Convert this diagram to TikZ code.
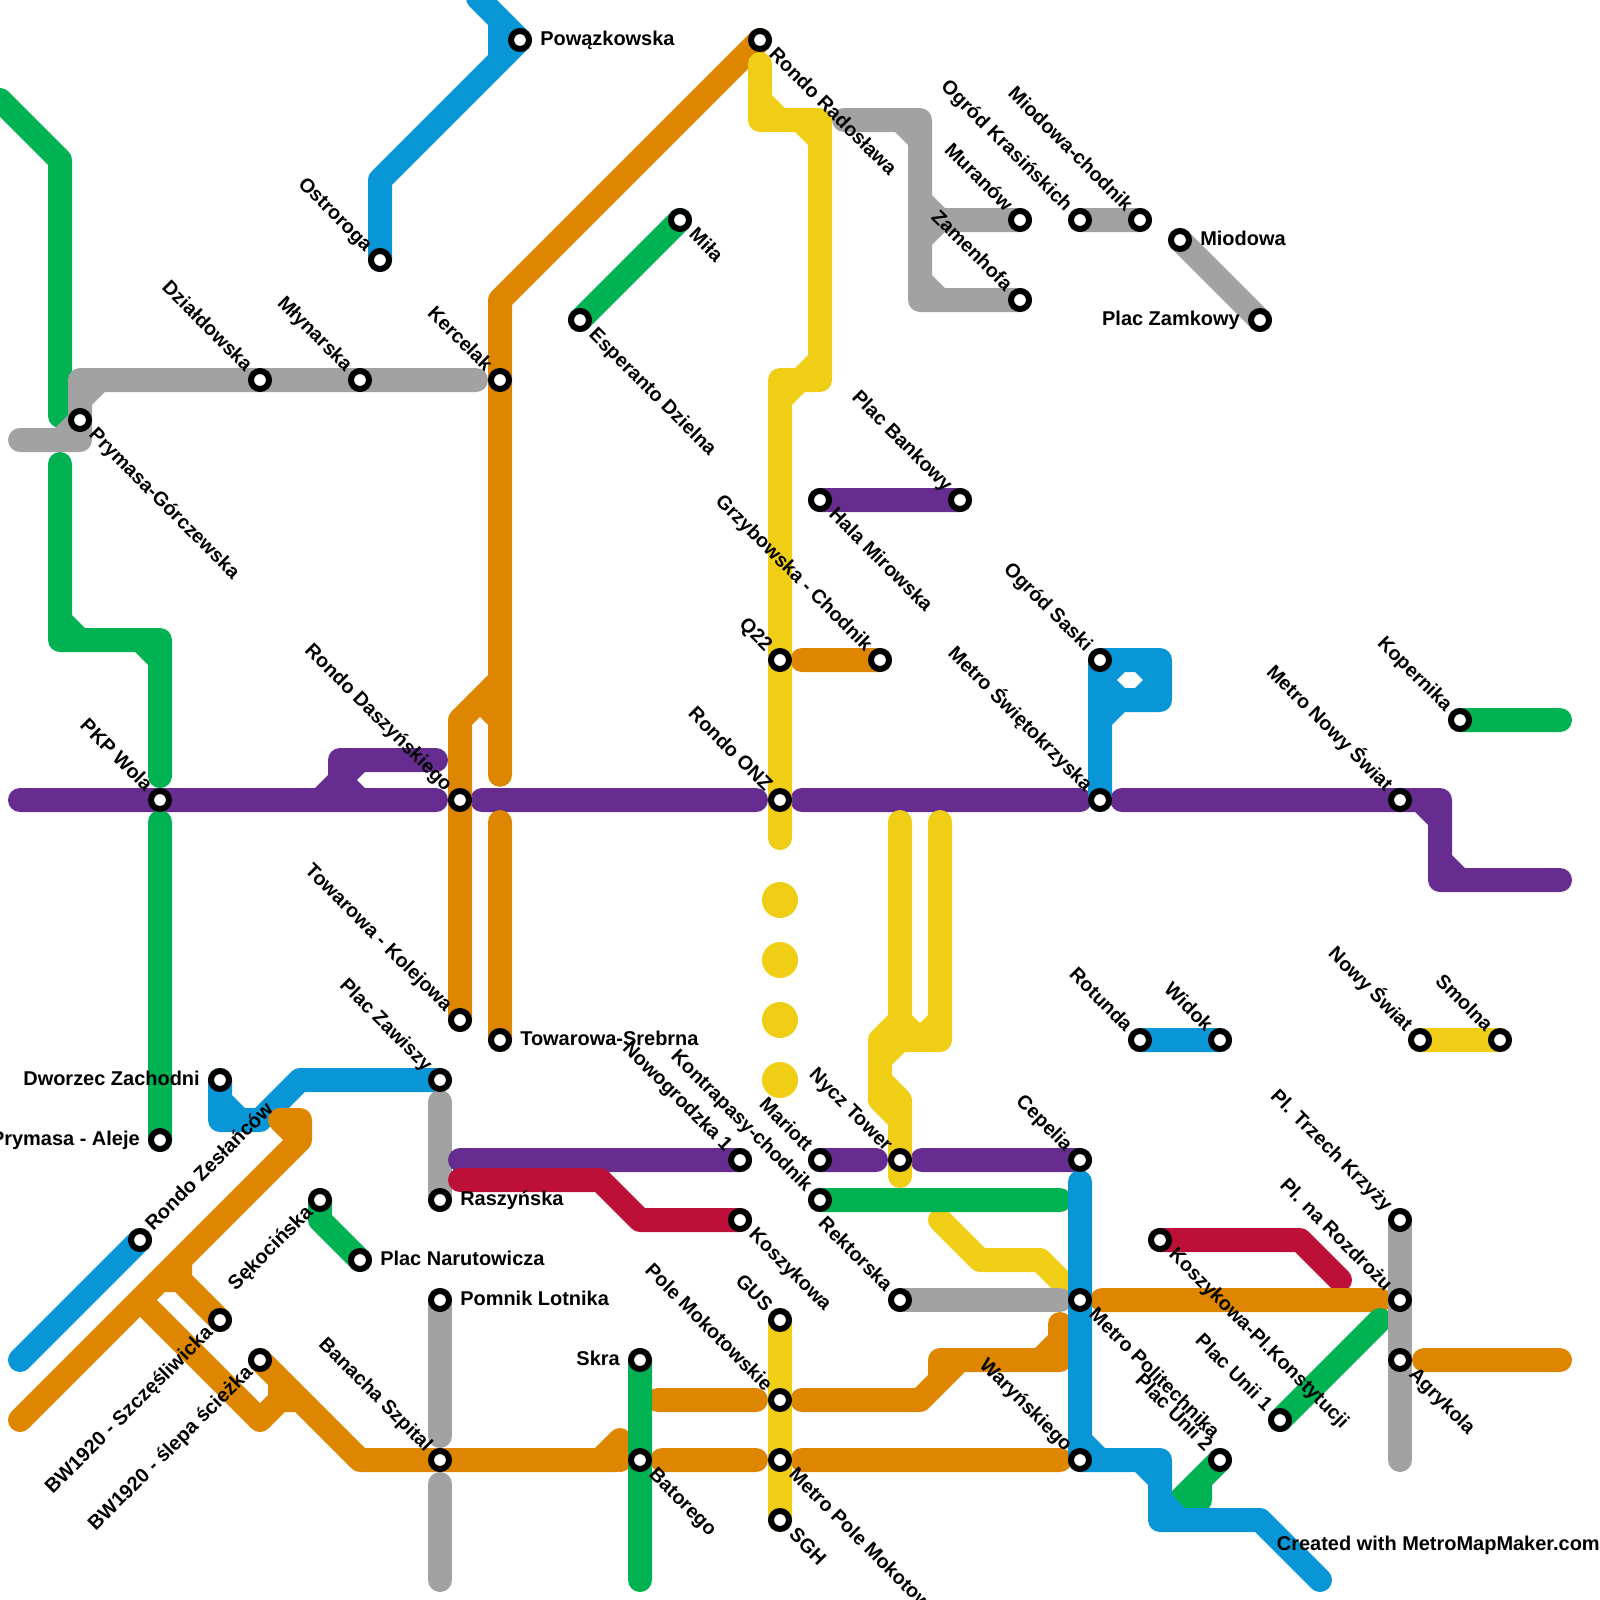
\documentclass[tikz,border=0pt]{standalone}
\usepackage{fontspec}
\setmainfont{Liberation Sans}
\usepackage{xcolor}
\usepackage{tikz}
\definecolor{lgreen}{HTML}{00B251}
\definecolor{lblue}{HTML}{0896D7}
\definecolor{lorange}{HTML}{DF8600}
\definecolor{lpurple}{HTML}{662C90}
\definecolor{lgray}{HTML}{A2A2A2}
\definecolor{lyellow}{HTML}{F0CE15}
\definecolor{lred}{HTML}{BD1038}
\pgfdeclarelayer{lines}
\pgfsetlayers{lines,main}
\tikzset{
  metro/.style={line width=.6cm,line cap=round,line join=round},
  stn/.style={circle,draw=black,fill=white,line width=.15cm,minimum size=.45cm,inner sep=0pt,outer sep=0pt},
  lbl/.style={font=\bfseries\fontsize{14.2}{14.2}\selectfont,inner sep=0pt,text height=10pt,text depth=2pt},
  lbldown/.style={font=\bfseries\fontsize{14}{14}\selectfont,inner sep=0pt,text height=10pt,text depth=3pt},
  lblup/.style={lbl,text depth=3pt},
  lblr/.style={lbl,anchor=west,xshift=.5cm},
  lbll/.style={lbl,anchor=east,xshift=-.5cm},
  lblnw/.style={lbldown,xshift=-.29cm,yshift=.275cm,rotate=-45,anchor=east},
  lblse/.style={lbldown,xshift=.285cm,yshift=-.305cm,rotate=-45,anchor=west},
  lblne/.style={lblup,xshift=.24cm,yshift=.3cm,rotate=45,anchor=west},
  lblsw/.style={lblup,xshift=-.24cm,yshift=-.25cm,rotate=45,anchor=east}
}
\begin{document}
\begin{tikzpicture}[x=1cm,y=-1cm]
  \useasboundingbox (0,0) rectangle (40,40);
  \foreach \id/\x/\y/\pos/\txt in {
    pow/13/1/lblr/Powązkowska, rad/19/1/lblse/Rondo Radosława, ost/9.5/6.5/lblnw/Ostroroga,
    dzi/6.5/9.5/lblnw/Działdowska, mly/9/9.5/lblnw/Młynarska, ker/12.5/9.5/lblnw/Kercelak,
    gor/2/10.5/lblse/Prymasa-Górczewska, esp/14.5/8/lblse/Esperanto Dzielna, mil/17/5.5/lblse/Miła,
    mur/25.5/5.5/lblnw/Muranów, zam/25.5/7.5/lblnw/Zamenhofa, ogk/27/5.5/lblnw/Ogród Krasińskich,
    mch/28.5/5.5/lblnw/Miodowa-chodnik, mio/29.5/6/lblr/Miodowa, pzm/31.5/8/lbll/Plac Zamkowy,
    hal/20.5/12.5/lblse/Hala Mirowska, pba/24/12.5/lblnw/Plac Bankowy, q22/19.5/16.5/lblnw/Q22,
    grz/22/16.5/lblnw/Grzybowska - Chodnik, osa/27.5/16.5/lblnw/Ogród Saski,
    swi/27.5/20/lblnw/Metro Świętokrzyska, kop/36.5/18/lblnw/Kopernika, pkp/4/20/lblnw/PKP Wola,
    das/11.5/20/lblnw/Rondo Daszyńskiego, onz/19.5/20/lblnw/Rondo ONZ, nsw/35/20/lblnw/Metro Nowy Świat,
    tko/11.5/25.5/lblnw/Towarowa - Kolejowa, tsr/12.5/26/lblr/Towarowa-Srebrna, rot/28.5/26/lblnw/Rotunda,
    wid/30.5/26/lblnw/Widok, now/35.5/26/lblnw/Nowy Świat, smo/37.5/26/lblnw/Smolna,
    dzw/5.5/27/lbll/Dworzec Zachodni, zaw/11/27/lblnw/Plac Zawiszy, ale/4/28.5/lbll/Prymasa - Aleje,
    zes/3.5/31/lblne/Rondo Zesłańców, sek/8/30/lblsw/Sękocińska, nar/9/31.5/lblr/Plac Narutowicza,
    ras/11/30/lblr/Raszyńska, lot/11/32.5/lblr/Pomnik Lotnika, nwg/18.5/29/lblnw/Nowogrodzka 1,
    ksz/18.5/30.5/lblse/Koszykowa, mar/20.5/29/lblnw/Mariott, kon/20.5/30/lblnw/Kontrapasy-chodnik,
    nyc/22.5/29/lblnw/Nycz Tower, cep/27/29/lblnw/Cepelia, rek/22.5/32.5/lblnw/Rektorska,
    pol/27/32.5/lblse/Metro Politechnika, kpk/29/31/lblse/Koszykowa-Pl.Konstytucji,
    ptk/35/30.5/lblnw/Pl. Trzech Krzyży, prz/35/32.5/lblnw/Pl. na Rozdrożu, agr/35/34/lblse/Agrykola,
    szc/5.5/33/lblsw/BW1920 - Szczęśliwicka, sle/6.5/34/lblsw/BW1920 - ślepa ścieżka,
    ban/11/36.5/lblnw/Banacha Szpital, skr/16/34/lbll/Skra, bat/16/36.5/lblse/Batorego,
    gus/19.5/33/lblnw/GUS, pmk/19.5/35/lblnw/Pole Mokotowskie, mpm/19.5/36.5/lblse/Metro Pole Mokotowskie,
    sgh/19.5/38/lblse/SGH, war/27/36.5/lblnw/Waryńskiego, un1/32/35.5/lblnw/Plac Unii 1, un2/30.5/36.5/lblnw/Plac Unii 2}{
    \node[stn] (\id) at (\x,\y) {};
    \node[\pos] (\id-t) at (\id) {\txt};
  }
  \node[lbl,anchor=east] (credit) at (40,38.63) {Created with MetroMapMaker.com};
  \begin{pgfonlayer}{lines}
    \draw[metro,lblue] (dzw.center) -- (5.5,28) -- (6.5,28) -- (7.5,27) -- (zaw.center) (5.5,27.5) -- (6,28);
    \draw[metro,lgray] (11,27.55) -- (ras.center);
    \draw[metro,lpurple] (0.5,20) -- (10.9,20) (10.9,19) -- (8.5,19) -- (8.5,20) (9,19) -- (8,20) (8.5,19.5) -- (9,20)
      (12.05,20) -- (18.9,20) (20.05,20) -- (27,20) (28.05,20) -- (36,20) -- (36,22) -- (39,22)
      (35.5,20) -- (36,20.5) (36,21.5) -- (36.5,22) (hal.center) -- (pba.center)
      (11.5,29) -- (nwg.center) (mar.center) -- (21.9,29) (23.05,29) -- (cep.center);
    \draw[metro,lred] (11.5,29.5) -- (15,29.5) -- (16,30.5) -- (ksz.center) (kpk.center) -- (32.5,31) -- (33.5,32);
    \draw[metro,lorange] (rad.center) -- (12.5,7.5) -- (12.5,19.37) (12.5,17) -- (11.5,18) -- (tko.center)
      (12,17.5) -- (12.5,18) (12.5,20.55) -- (tsr.center) (20.05,16.5) -- (grz.center);
    \draw[metro,lorange] (7,28) -- (7.5,28) -- (7.5,28.5) -- (0.5,35.5) (7,28) -- (7.5,28.5)
      (4.5,31.5) -- (4.5,32) -- (4,32) (4.5,32) -- (szc.center) (3.5,32.5) -- (6.5,35.5) -- (7,35) -- (7.5,35)
      (sle.center) -- (9,36.5) -- (15.4,36.5) (7,34.5) -- (7,35) (15.5,36) -- (15.5,36.5) (15.5,36) -- (15,36.5);
    \draw[metro,lorange] (16.55,36.5) -- (18.9,36.5) (20.05,36.5) -- (26.5,36.5) (16.45,35) -- (18.9,35)
      (20.05,35) -- (23,35) -- (24,34) (23.5,34) -- (23.5,34.5) (23.5,34) -- (26.5,34) -- (26.5,33.1)
      (26,34) -- (26.5,33.5) (27.55,32.5) -- (34.5,32.5) (35.6,34) -- (39,34);
    \draw[metro,lyellow] (19,1.6) -- (19,3) -- (20.5,3) -- (20.5,9.5) -- (19.5,9.5) -- (19.5,20.95)
      (19,2.5) -- (19.5,3) (20,3) -- (20.5,3.5) (20.5,9) -- (19.5,10);
    \draw[metro,lyellow] (22.5,20.55) -- (22.5,26) (23.5,20.55) -- (23.5,26) -- (22,26) -- (22,27.5)
      (22.5,25.5) -- (22,26) (22.5,25.5) -- (23,26) (23.5,25.5) -- (23,26) (22.5,26) -- (22,26.5)
      (22,27) -- (22.5,27.5) (22,27.5) -- (22.5,28) (22.5,27.5) -- (22.5,29.4);
    \draw[metro,lyellow] (23.5,30.5) -- (24.5,31.5) -- (26,31.5) -- (27,32.5) (gus.center) -- (sgh.center) (now.center) -- (smo.center);
    \foreach \y in {22.5,24,25.5,27}{\fill[lyellow] (19.5,\y) circle (.45);}
    \draw[metro,lgreen] (0,2.5) -- (1.5,4) -- (1.5,10.4) (1.5,11.6) -- (1.5,16) -- (4,16) -- (4,19.4)
      (1.5,15.5) -- (2,16) (3.5,16) -- (4,16.5) (4,20.55) -- (ale.center) (mil.center) -- (esp.center) (kop.center) -- (39,18)
      (sek.center) -- (8,30.5) -- (nar.center) (kon.center) -- (26.5,30) (skr.center) -- (16,39.5) (un1.center) -- (34.5,33)
      (un2.center) -- (29.5,37.5) (30,37) -- (30,37.5) -- (29.5,37.5);
    \draw[metro,lgray] (11.9,9.5) -- (2,9.5) -- (2,11) -- (0.5,11) (2.5,9.5) -- (2,10) (2,10.5) -- (1.5,11);
    \draw[metro,lgray] (21.1,3) -- (23,3) -- (23,7.5) -- (zam.center) (22.5,3) -- (23,3.5) (23,7) -- (23.5,7.5)
      (23,5) -- (23.5,5.5) -- (mur.center) (23,6) -- (23.5,5.5) (ogk.center) -- (mch.center) (mio.center) -- (pzm.center);
    \draw[metro,lgray] (lot.center) -- (11,35.9) (11,37.1) -- (11,39.5) (rek.center) -- (26.5,32.5) (ptk.center) -- (35,36.5);
    \draw[metro,lblue] (ost.center) -- (9.5,4.5) -- (pow.center) (11.95,-.05) -- (pow.center) (12.5,.5) -- (12.5,1.5)
      (swi.center) -- (osa.center) -- (29,16.5) -- (29,17.5) -- (27.5,17.5) (27.5,18) -- (28,17.5)
      (28,16.5) -- (27.5,17) -- (28,17.5) (28.5,16.5) -- (29,17) -- (28.5,17.5)
      (rot.center) -- (wid.center) (zes.center) -- (0.5,34);
    \draw[metro,lblue] (27,29.55) -- (war.center) -- (29,36.5) -- (29,38) -- (31.5,38) -- (33,39.5)
      (27,36) -- (27.5,36.5) (28.5,36.5) -- (29,37) (29,37.5) -- (29.5,38);
  \end{pgfonlayer}
\end{tikzpicture}
\end{document}
